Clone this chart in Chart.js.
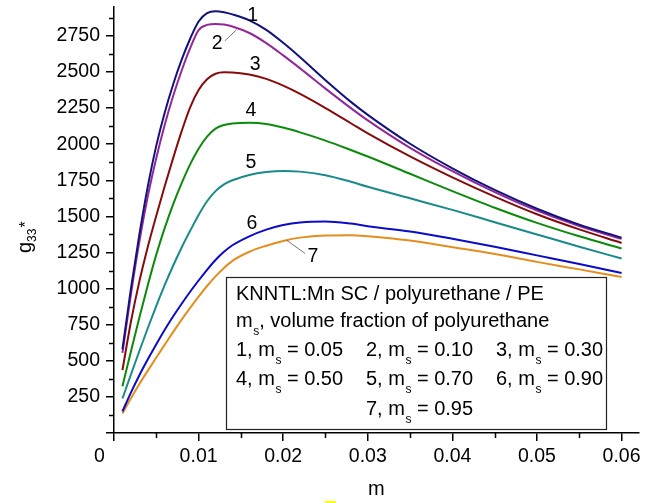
<!DOCTYPE html>
<html><head><meta charset="utf-8">
<script src="https://cdn.jsdelivr.net/npm/chart.js@4.4.0/dist/chart.umd.min.js"></script>
<style>html,body{margin:0;padding:0;background:#fff;}#wrap{width:655px;height:503px;position:relative;}</style>
</head><body><div id="wrap"><canvas id="c" width="655" height="503"></canvas></div>
<script>
const mValues = [0.001,0.002,0.003,0.004,0.005,0.006,0.007,0.008,0.009,0.010,0.011,0.012,0.013,0.014,0.016,0.018,0.020,0.022,0.025,0.028,0.030,0.035,0.040,0.045,0.050,0.055,0.060];
const g1 = [580,1000,1375,1710,1990,2220,2415,2585,2730,2850,2908,2921,2914,2899,2858,2792,2702,2602,2443,2293,2203,2003,1833,1683,1553,1443,1353];
const g2 = [555,960,1325,1640,1905,2135,2335,2510,2665,2790,2826,2832,2829,2815,2770,2700,2615,2525,2385,2250,2165,1975,1813,1668,1540,1433,1344];
const g3 = [435,770,1050,1290,1505,1710,1905,2090,2255,2375,2450,2488,2498,2497,2482,2452,2405,2348,2250,2145,2075,1915,1770,1637,1515,1410,1316];
const g4 = [324,565,800,1025,1235,1420,1585,1730,1860,1968,2052,2108,2133,2143,2148,2140,2115,2082,2025,1960,1915,1795,1675,1560,1455,1362,1278];
const g5 = [239,405,568,727,880,1025,1160,1285,1400,1510,1605,1675,1722,1750,1787,1807,1815,1810,1785,1740,1705,1625,1545,1460,1375,1290,1208];
const g6 = [150,280,400,510,615,715,808,895,978,1056,1130,1198,1255,1300,1362,1408,1440,1458,1465,1450,1432,1395,1345,1290,1230,1170,1108];
const g7 = [135,240,340,432,523,612,700,785,866,944,1018,1085,1143,1192,1255,1297,1330,1353,1368,1370,1363,1333,1287,1240,1185,1133,1081];
const seriesValues = [g1,g2,g3,g4,g5,g6,g7];
const seriesNames = ['1','2','3','4','5','6','7'];
const msValues = ['0.05','0.10','0.30','0.50','0.70','0.90','0.95'];
const seriesColors = ['#12127e','#93279a','#860c0c','#0c8a0c','#1a8a8a','#0b0bc8','#e38e1e'];
const xTickValues = [0,0.01,0.02,0.03,0.04,0.05,0.06];
const xTickLabels = ['0','0.01','0.02','0.03','0.04','0.05','0.06'];
const xMinorTicks = [0.005,0.015,0.025,0.035,0.045,0.055];
const yTickValues = [0,250,500,750,1000,1250,1500,1750,2000,2250,2500,2750];
const yTickLabels = ['','250','500','750','1000','1250','1500','1750','2000','2250','2500','2750'];
const yMinorTicks = [125,375,625,875,1125,1375,1625,1875,2125,2375,2625,2875];
// curve number labels (data coordinates)
const labelM = [0.0164,0.0122,0.0167,0.0162,0.0162,0.0163,0.0235];
const labelV = [2893,2693,2554,2235,1875,1453,1218];
// leader lines for labels 2 and 7: [m1,v1,m2,v2]
const leaders = [[0.0131,2715,0.0145,2794],[0.0204,1335,0.0226,1243]];
const legendTitle = 'KNNTL:Mn SC / polyurethane / PE';
const legendSub = ', volume fraction of polyurethane';

const FONT = "'Liberation Sans', Arial, sans-serif";
const TICKFS = 19.5;

const datasets = seriesValues.map((vals, i) => ({
  label: seriesNames[i],
  data: mValues.map((m, j) => ({x: m, y: vals[j]})),
  borderColor: seriesColors[i],
  backgroundColor: seriesColors[i],
  borderWidth: 2,
  pointRadius: 0,
  cubicInterpolationMode: 'monotone',
  fill: false
}));

function drawEntry(ctx, x, y, pre, post) {
  ctx.font = '20px ' + FONT;
  ctx.fillText(pre, x, y);
  x += ctx.measureText(pre).width;
  ctx.font = '12px ' + FONT;
  ctx.fillText('s', x + 0.5, y + 8);
  x += ctx.measureText('s').width + 0.5;
  ctx.font = '20px ' + FONT;
  ctx.fillText(post, x, y);
}

const decor = {
  id: 'decor',
  afterDraw(chart) {
    const ctx = chart.ctx;
    const xs = chart.scales.x, ys = chart.scales.y;
    const ca = chart.chartArea;
    ctx.save();
    // minor ticks
    ctx.strokeStyle = '#000';
    ctx.lineWidth = 1.5;
    ctx.beginPath();
    xMinorTicks.forEach(v => {
      const px = Math.round(xs.getPixelForValue(v)) + 0.5;
      ctx.moveTo(px, ca.bottom); ctx.lineTo(px, ca.bottom + 5);
    });
    yMinorTicks.forEach(v => {
      const py = Math.round(ys.getPixelForValue(v)) + 0.5;
      ctx.moveTo(ca.left, py); ctx.lineTo(ca.left - 5, py);
    });
    ctx.stroke();
    // x "0" label, shifted left of the corner
    ctx.fillStyle = '#000';
    ctx.font = TICKFS + 'px ' + FONT;
    ctx.textAlign = 'center';
    ctx.textBaseline = 'middle';
    ctx.fillText(xTickLabels[0], xs.getPixelForValue(0) - 14.5, ca.bottom + 8 + 4 + TICKFS * 0.6);
    // axis titles
    ctx.textAlign = 'center';
    ctx.textBaseline = 'alphabetic';
    ctx.font = '20px ' + FONT;
    ctx.fillText('m', (ca.left + ca.right) / 2, 495);
    ctx.save();
    ctx.translate(31, 253);
    ctx.rotate(-Math.PI / 2);
    ctx.textAlign = 'left';
    ctx.font = '20px ' + FONT;
    ctx.fillText('g', 0, 0);
    const gw = ctx.measureText('g').width;
    ctx.font = '12px ' + FONT;
    ctx.fillText('33', gw, 5);
    const sw = ctx.measureText('33').width;
    ctx.font = '16px ' + FONT;
    ctx.fillText('*', gw + sw + 1, 0);
    ctx.restore();
    // curve labels
    ctx.textAlign = 'center';
    ctx.textBaseline = 'middle';
    ctx.font = TICKFS + 'px ' + FONT;
    seriesNames.forEach((n, i) => {
      ctx.fillText(n, xs.getPixelForValue(labelM[i]), ys.getPixelForValue(labelV[i]));
    });
    ctx.strokeStyle = '#555';
    ctx.lineWidth = 0.8;
    ctx.beginPath();
    leaders.forEach(l => {
      ctx.moveTo(xs.getPixelForValue(l[0]), ys.getPixelForValue(l[1]));
      ctx.lineTo(xs.getPixelForValue(l[2]), ys.getPixelForValue(l[3]));
    });
    ctx.stroke();
    // legend box
    ctx.fillStyle = '#fff';
    ctx.fillRect(226.5, 277.5, 380, 152);
    ctx.strokeStyle = '#222';
    ctx.lineWidth = 1.2;
    ctx.strokeRect(226.5, 277.5, 380, 152);
    ctx.fillStyle = '#000';
    ctx.textAlign = 'left';
    ctx.textBaseline = 'alphabetic';
    ctx.font = '20px ' + FONT;
    ctx.fillText(legendTitle, 236, 300);
    drawEntry(ctx, 236, 327, 'm', legendSub);
    const colX = [236, 366, 496];
    const rowY = [356, 385, 415];
    seriesNames.forEach((n, i) => {
      let r = Math.floor(i / 3), c = i % 3;
      if (i === 6) { r = 2; c = 1; }
      drawEntry(ctx, colX[c], rowY[r], n + ', m', ' = ' + msValues[i]);
    });
    // small yellow mark at bottom edge
    ctx.fillStyle = '#ffff00';
    ctx.fillRect(325, 501, 11, 2);
    ctx.restore();
  }
};

new Chart(document.getElementById('c'), {
  type: 'line',
  data: { datasets },
  plugins: [decor],
  options: {
    responsive: false,
    animation: false,
    devicePixelRatio: 1,
    layout: { padding: { left: 0, top: 7, right: 16.5, bottom: 0 } },
    plugins: { legend: { display: false }, tooltip: { enabled: false }, title: { display: false } },
    scales: {
      x: {
        type: 'linear', min: 0, max: 0.062,
        afterBuildTicks: s => { s.ticks = xTickValues.map(v => ({ value: v })); },
        afterFit: s => { s.height = 70; s.paddingLeft = 0; s.paddingRight = 0; },
        ticks: {
          autoSkip: false, maxRotation: 0, padding: 4, color: '#000',
          font: { family: FONT, size: TICKFS },
          callback: (v, i) => (i === 0 ? '' : xTickLabels[i])
        },
        grid: { display: true, drawOnChartArea: false, drawTicks: true, tickLength: 8, color: '#000', lineWidth: 1.5 },
        border: { display: true, color: '#000', width: 1.5 }
      },
      y: {
        type: 'linear', min: 0, max: 2950,
        afterBuildTicks: s => { s.ticks = yTickValues.map(v => ({ value: v })); },
        afterFit: s => { s.width = 114; s.paddingTop = 0; s.paddingBottom = 0; },
        ticks: {
          autoSkip: false, padding: 6, color: '#000',
          font: { family: FONT, size: TICKFS },
          callback: (v, i) => yTickLabels[i]
        },
        grid: { display: true, drawOnChartArea: false, drawTicks: true, tickLength: 8, color: '#000', lineWidth: 1.5 },
        border: { display: true, color: '#000', width: 1.5 }
      }
    }
  }
});
</script>
</body></html>
